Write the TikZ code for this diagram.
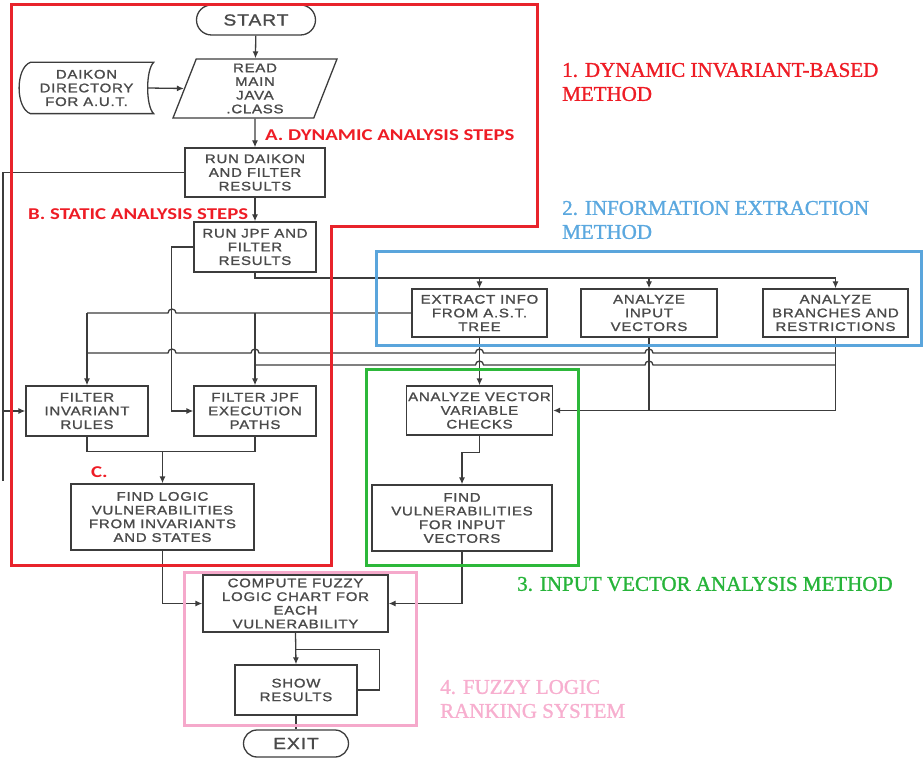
\documentclass[tikz,border=0pt]{standalone}
\usepackage{fontspec}
\setmainfont{Liberation Serif}
\newfontfamily\boxfont[FakeStretch=1.2,LetterSpace=6,FakeBold=1.4]{Liberation Sans}
\newfontfamily\stepfont[FakeStretch=1.26]{Carlito}
\newfontfamily\methodfont[FakeBold=1.2]{Liberation Serif}
\usetikzlibrary{shapes.geometric,shapes.misc,arrows.meta,calc}

\definecolor{linegray}{HTML}{3C3C3C}
\definecolor{textgray}{HTML}{4A4A4A}
\definecolor{redbox}{HTML}{E8232B}
\definecolor{bluebox}{HTML}{5AA5DC}
\definecolor{greenbox}{HTML}{2DB83A}
\definecolor{pinkbox}{HTML}{F5A9CB}
\definecolor{redtxt}{HTML}{EE1C25}
\definecolor{bluetxt}{HTML}{5BA8DF}
\definecolor{greentxt}{HTML}{27B43A}
\definecolor{pinktxt}{HTML}{F7AFCF}

\newcommand\boxtext{\boxfont\fontsize{12.5}{13.7}\selectfont}
\newcommand\termtext{\boxfont\fontsize{16}{17}\selectfont}
\newcommand\methodtext{\methodfont\fontsize{21}{24}\selectfont}
\newcommand\steptext{\stepfont\bfseries\fontsize{16.5}{18}\selectfont}

\begin{document}
\begin{tikzpicture}[x=1pt,y=-1pt,
  proc/.style={draw=linegray, line width=1.3pt, rectangle, align=center,
    text=textgray, inner sep=0pt, font=\boxtext},
  term/.style={proc, rounded rectangle, font=\termtext},
  io/.style={proc, trapezium, trapezium left angle=65, trapezium right angle=115,
    trapezium stretches body},
  link/.style={draw=linegray, line width=1.3pt},
  arr/.style={link, -{Latex[length=7pt,width=6pt]}},
  region/.style={line width=3pt},
  method/.style={font=\methodtext, align=left, anchor=west, inner sep=0pt},
  steplabel/.style={font=\steptext, text=redtxt, anchor=west, inner sep=0pt}]

\useasboundingbox (0,0) rectangle (924,759);

% ---------- flowchart nodes ----------
\node[term, minimum width=119pt, minimum height=30pt] (start) at (256,20) {START};
\node[io, minimum width=164pt, minimum height=59pt] (read) at (255,88.5)
  {READ\\MAIN\\JAVA\\.CLASS};
\node[proc, draw=none, minimum width=133pt, minimum height=50pt] (daikon) at (86.5,88)
  {DAIKON\\DIRECTORY\\FOR A.U.T.};
\node[proc, minimum width=140pt, minimum height=49pt] (rund) at (255,172.5)
  {RUN DAIKON\\AND FILTER\\RESULTS};
\node[proc, minimum width=122pt, minimum height=50pt] (runj) at (255,247)
  {RUN JPF AND\\FILTER\\RESULTS};
\node[proc, minimum width=135pt, minimum height=48pt] (extract) at (479.5,313)
  {EXTRACT INFO\\FROM A.S.T.\\TREE};
\node[proc, minimum width=136pt, minimum height=48pt] (vect) at (649,313)
  {ANALYZE\\INPUT\\VECTORS};
\node[proc, minimum width=145pt, minimum height=48pt] (branch) at (835.5,313)
  {ANALYZE\\BRANCHES AND\\RESTRICTIONS};
\node[proc, minimum width=122pt, minimum height=50pt] (finv) at (87,411)
  {FILTER\\INVARIANT\\RULES};
\node[proc, minimum width=122pt, minimum height=50pt] (fjpf) at (255,411)
  {FILTER JPF\\EXECUTION\\PATHS};
\node[proc, minimum width=183pt, minimum height=66pt] (flogic) at (162.5,517)
  {FIND LOGIC\\VULNERABILITIES\\FROM INVARIANTS\\AND STATES};
\node[proc, minimum width=146pt, minimum height=49pt] (avc) at (479.5,410.5)
  {ANALYZE VECTOR\\VARIABLE\\CHECKS};
\node[proc, minimum width=180pt, minimum height=66pt] (fvul) at (462,518)
  {FIND\\VULNERABILITIES\\FOR INPUT\\VECTORS};
\node[proc, minimum width=185pt, minimum height=57pt] (comp) at (295.5,603.5)
  {COMPUTE FUZZY\\LOGIC CHART FOR\\EACH\\VULNERABILITY};
\node[proc, minimum width=122pt, minimum height=50pt] (show) at (296,690)
  {SHOW\\RESULTS};
\node[term, minimum width=105pt, minimum height=27pt] (exit) at (296,743.5) {EXIT};

% stored-data outline of the Daikon directory
\draw[link] ($(daikon.north west)+(11,0)$) -- (daikon.north east)
  .. controls ($(daikon.east)+(-8,-18)$) and ($(daikon.east)+(-8,18)$) .. (daikon.south east)
  -- ($(daikon.south west)+(11,0)$)
  .. controls ($(daikon.west)+(-4,20)$) and ($(daikon.west)+(-4,-20)$) .. cycle;

% bus levels
\coordinate (b1) at (0,278);
\coordinate (b2) at (0,313);
\coordinate (b3) at (0,353);
\coordinate (b4) at (0,365);
\coordinate (lend) at (3,481);

% ---------- connectors ----------
\draw[arr] (start) -- (read);
\draw[arr] ($(daikon.east)+(-6,0)$) -- (read.west);
\draw[arr] (read.south) -- (rund.north);
\draw[arr] (rund) -- (runj);

% long line on the far left into the invariant filter
\draw[link] (rund.west) -| (lend);
\draw[arr] (lend |- finv.west) -- (finv.west);

% JPF results to the execution-path filter
\draw[arr] (runj.west) -- ($(runj.west)+(-22,0)$) |- (fjpf.west);

% JPF results to the three information-extraction steps
\draw[link] (runj.south) |- (branch.north |- b1);
\draw[arr] (extract.north |- b1) -- (extract.north);
\draw[arr] (vect.north |- b1) -- (vect.north);
\draw[arr] (branch.north |- b1) -- (branch.north);

% A.S.T. output to both filters
\draw[link] (extract.west) -- (176,313) arc[start angle=0,end angle=-180,radius=4]
  -- (finv.north |- b2);
\draw[arr] (finv.north |- b2) -- (finv.north);
\draw[arr] (fjpf.north |- b2) -- (fjpf.north);

% branch/restriction output to both filters
\draw[link] (branch.south) -- (branch.south |- avc.east);
\draw[link] (branch.south |- b3) -- (653,353) arc[start angle=0,end angle=-180,radius=4]
  -- (483.5,353) arc[start angle=0,end angle=-180,radius=4]
  -- (259,353) arc[start angle=0,end angle=-180,radius=4]
  -- (176,353) arc[start angle=0,end angle=-180,radius=4]
  -- (finv.north |- b3);
\draw[link] (branch.south |- b4) -- (653,365) arc[start angle=0,end angle=-180,radius=4]
  -- (483.5,365) arc[start angle=0,end angle=-180,radius=4]
  -- (fjpf.north |- b4);

% input-vector branch
\draw[arr] (branch.south |- avc.east) -- (avc.east);
\draw[link] (vect.south) -- (vect.south |- avc.east);
\draw[arr] (extract.south) -- (avc.north);
\draw[arr] (avc.south) -- ++(0,17) -| (fvul.north);

% merge of the two filters
\draw[link] (finv.south) -- ++(0,15) -| (fjpf.south);
\draw[arr] (flogic.north |- 0,451) -- (flogic.north);

% fuzzy ranking
\draw[arr] (flogic.south) |- (comp.west);
\draw[arr] (fvul.south) |- (comp.east);
\draw[arr] (comp.south) -- (show.north);
\draw[link] (show.east) -- ++(22,0) |- ($(comp.south)+(0,17)$);
\draw[link] (show.south) -- (exit.north);

% ---------- method regions ----------
\draw[region, redbox] (11,5) -- (537,5) -- (537,227) -- (331,227) -- (331,565) -- (11,565) -- cycle;
\draw[region, bluebox] (376,252) rectangle (921,346);
\draw[region, greenbox] (366,370) rectangle (578,565);
\draw[region, pinkbox] (184,572) rectangle (416,725);

% ---------- labels ----------
\node[steplabel] (la) at (265,135) {A. DYNAMIC ANALYSIS STEPS};
\node[steplabel] (lb) at (28,214) {B. STATIC ANALYSIS STEPS};
\node[steplabel] (lc) at (91,472) {C.};

\node[method, text=redtxt] (m1) at (562,82) {1. DYNAMIC INVARIANT-BASED\\METHOD};
\node[method, text=bluetxt] (m2) at (562,220) {2. INFORMATION EXTRACTION\\METHOD};
\node[method, text=greentxt] (m3) at (517,584) {3. INPUT VECTOR ANALYSIS METHOD};
\node[method, text=pinktxt] (m4) at (440,699) {4. FUZZY LOGIC\\RANKING SYSTEM};

\end{tikzpicture}
\end{document}
